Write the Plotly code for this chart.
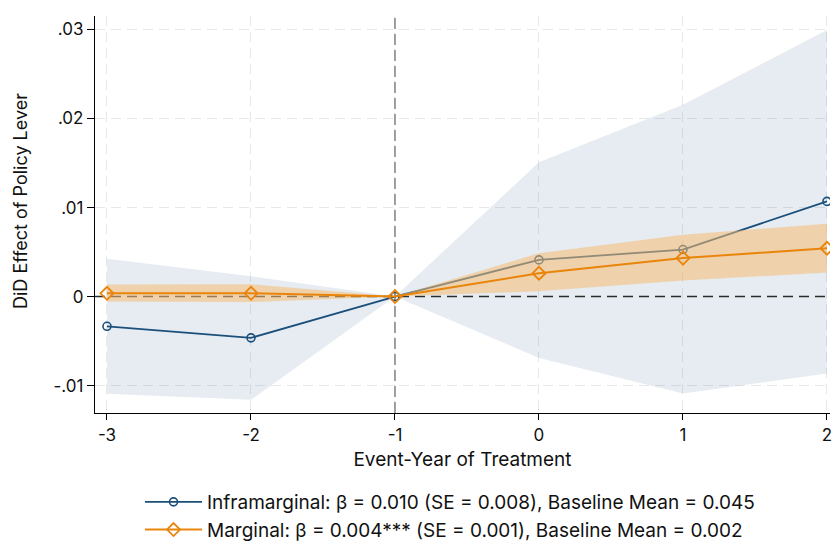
import plotly.graph_objects as go

# Event-study estimates (event year relative to treatment)
event_years = [-3, -2, -1, 0, 1, 2]

# Inframarginal group: point estimates and 95% CI bounds
infra_coef = [-0.00334, -0.00464, 0.0, 0.00412, 0.00528, 0.01069]
infra_upper = [0.00424, 0.00228, 0.0, 0.01509, 0.02154, 0.02996]
infra_lower = [-0.01093, -0.01160, 0.0, -0.00689, -0.01088, -0.00864]

# Marginal group: point estimates and 95% CI bounds
marg_coef = [0.00037, 0.00037, 0.0, 0.00262, 0.00432, 0.00543]
marg_upper = [0.00135, 0.00138, 0.0, 0.00487, 0.00695, 0.00817]
marg_lower = [-0.00055, -0.00062, 0.0, 0.00060, 0.00180, 0.00270]

y_ticks = [-0.01, 0, 0.01, 0.02, 0.03]
y_tick_labels = ["-.01", "0", ".01", ".02", ".03"]

infra_label = "Inframarginal: β = 0.010 (SE = 0.008), Baseline Mean = 0.045"
marg_label = "Marginal: β = 0.004*** (SE = 0.001), Baseline Mean = 0.002"
x_title = "Event-Year of Treatment"
y_title = "DiD Effect of Policy Lever"

X_RANGE = [-3.0833, 2.021]
Y_RANGE = [-0.01308, 0.03152]
REF_YEAR = -1

NAVY = "#1b4f7b"
ORANGE = "#e8850a"
FONT = "Inter, Liberation Sans, Arial, sans-serif"

W, H = 833, 542
ML, MR, MT, MB = 95, 3, 16, 129
PW, PH = W - ML - MR, H - MT - MB


def band(xs, lo, hi):
    return xs + xs[::-1], hi + lo[::-1]


fig = go.Figure()

# Inframarginal confidence band
bx, by = band(event_years, infra_lower, infra_upper)
fig.add_trace(go.Scatter(x=bx, y=by, fill="toself", mode="none",
                         fillcolor="rgba(27,79,123,0.11)", hoverinfo="skip",
                         showlegend=False))

# Reference lines: zero effect and the omitted event year
fig.add_trace(go.Scatter(x=X_RANGE, y=[0, 0], mode="lines",
                         line=dict(color="#2b2b2b", width=1.6, dash="10px,6px"),
                         hoverinfo="skip", showlegend=False))
fig.add_trace(go.Scatter(x=[REF_YEAR, REF_YEAR], y=[Y_RANGE[0], Y_RANGE[1]], mode="lines",
                         line=dict(color="#8a8a8a", width=1.6, dash="11px,5px"),
                         hoverinfo="skip", showlegend=False))

# Inframarginal estimates
fig.add_trace(go.Scatter(x=event_years, y=infra_coef, mode="lines+markers",
                         name=infra_label,
                         line=dict(color=NAVY, width=1.8),
                         marker=dict(symbol="circle-open", size=8, color=NAVY,
                                     line=dict(width=1.6, color=NAVY))))

# Marginal confidence band
bx, by = band(event_years, marg_lower, marg_upper)
fig.add_trace(go.Scatter(x=bx, y=by, fill="toself", mode="none",
                         fillcolor="rgba(246,188,115,0.55)", hoverinfo="skip",
                         showlegend=False))

# Marginal estimates
fig.add_trace(go.Scatter(x=event_years, y=marg_coef, mode="lines+markers",
                         name=marg_label,
                         line=dict(color=ORANGE, width=2),
                         marker=dict(symbol="diamond-open", size=10, color=ORANGE,
                                     line=dict(width=1.8, color=ORANGE))))

# Vertical axis title, placed beside the tick labels
fig.add_annotation(text=y_title, textangle=-90, xref="paper", yref="paper",
                   x=(20 - ML) / PW, y=(MT + PH - 201) / PH,
                   xanchor="center", yanchor="middle", showarrow=False,
                   font=dict(size=18, family=FONT, color="#111111"))

fig.update_layout(
    width=W, height=H,
    margin=dict(l=ML, r=MR, t=MT, b=MB, autoexpand=False),
    paper_bgcolor="white", plot_bgcolor="white",
    font=dict(family=FONT, size=17, color="#111111"),
    legend=dict(x=(140 - ML) / PW, y=(MT + PH - 483) / PH,
                xanchor="left", yanchor="top", font=dict(size=19),
                bgcolor="rgba(0,0,0,0)", tracegroupgap=0, itemwidth=57),
    showlegend=True,
)

fig.update_xaxes(
    range=X_RANGE, tickvals=event_years, ticktext=[str(v) for v in event_years],
    showline=True, linecolor="black", linewidth=1.3,
    ticks="outside", ticklen=6, tickcolor="black", tickwidth=1.3,
    showgrid=True, gridcolor="#e8e8e8", griddash="10px,6px", gridwidth=1.2,
    zeroline=False, automargin=False,
    title=dict(text=x_title, standoff=9, font=dict(size=19)),
    tickfont=dict(size=17),
)
fig.update_yaxes(
    range=Y_RANGE, tickvals=y_ticks, ticktext=y_tick_labels,
    showline=True, linecolor="black", linewidth=1.3,
    ticks="outside", ticklen=7, tickcolor="black", tickwidth=1.3,
    showgrid=True, gridcolor="#e8e8e8", griddash="10px,6px", gridwidth=1.2,
    zeroline=False, automargin=False,
    tickfont=dict(size=17),
)

fig.write_html("out.html")
